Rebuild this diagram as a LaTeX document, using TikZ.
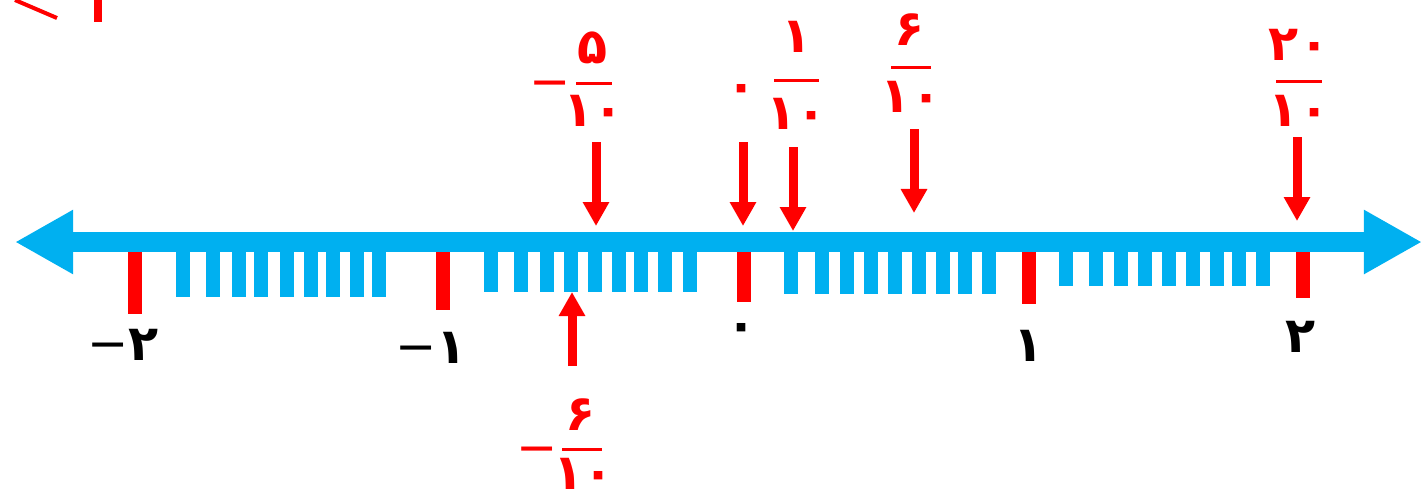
\documentclass[tikz,border=0pt]{standalone}
\usepackage{fontspec}
\newfontfamily\fafont{DejaVu Sans}
\usetikzlibrary{calc, arrows, arrows.meta}
\definecolor{lineblue}{RGB}{0,176,240}
\tikzstyle{numline}=[draw=lineblue, line width=0.2cm, {Triangle[width=0.6cm,length=0.58cm]}-{Triangle[width=0.6cm,length=0.58cm]}]
\tikzstyle{tenth}=[draw=lineblue, line width=0.14cm]
\tikzstyle{unittick}=[draw=red, line width=0.14cm]
\tikzstyle{num}=[font=\fafont\bfseries\fontsize{14}{16}\selectfont, inner sep=0pt]
\tikzstyle{frac}=[num, text=red]
\tikzstyle{bar}=[draw=red, line width=0.03cm]
\tikzstyle{pointer}=[draw=red, line width=0.09cm, -{Triangle[width=0.25cm,length=0.24cm]}]

\begin{document}
\begin{tikzpicture}[x=0.01cm, y=-0.01cm]
      \useasboundingbox (0,0) rectangle (1428,499);

      % cut-off heading
      \draw[red, line width=0.04cm] (15,0) -- (57,18);
      \draw[red, line width=0.08cm] (98,0) -- (98,22);

      % number line
      \coordinate (west) at (15,242);
      \coordinate (east) at (1422,242);
      \draw[numline] (west) -- (east);

      \foreach \x in {183,213,239,261,287,311,333,357,379} \draw[tenth] (\x,252) -- (\x,297);
      \foreach \x in {491,521,547,571,595,619,641,665,690} \draw[tenth] (\x,252) -- (\x,292);
      \foreach \x in {791,822,847,871,895,919,943,965,989} \draw[tenth] (\x,252) -- (\x,294);
      \foreach \x in {1066,1096,1121,1145,1169,1193,1217,1239,1263} \draw[tenth] (\x,252) -- (\x,286);

      \draw[unittick] (135,252) -- (135,314);
      \draw[unittick] (443,252) -- (443,310);
      \draw[unittick] (744,252) -- (744,302);
      \draw[unittick] (1029,252) -- (1029,304);
      \draw[unittick] (1303,252) -- (1303,298);

      \node[num] (lm2) at (123,345) {{\mdseries −}۲};
      \node[num] (lm1) at (431,348) {{\mdseries −}۱};
      \node[num] (l0) at (742,332) {۰};
      \node[num] (l1) at (1029,346) {۱};
      \node[num] (l2) at (1300,337) {۲};

      % -5/10
      \node[frac] (n5) at (593,48) {۵};
      \node[frac] (d5) at (594,111) {۱۰};
      \node[frac, font=\fafont\fontsize{14}{16}\selectfont, anchor=base] (m5) at (550,98) {−};
      \coordinate (b5l) at (576,83);
      \coordinate (b5r) at (612,83);
      \draw[bar] (b5l) -- (b5r);
      \coordinate (s5) at (596,142);
      \coordinate (e5) at (596,226);
      \draw[pointer] (s5) -- (e5);

      % 0
      \node[frac] (z0) at (742,93) {۰};
      \coordinate (s0) at (743,142);
      \coordinate (e0) at (743,226);
      \draw[pointer] (s0) -- (e0);

      % 1/10
      \node[frac] (n1) at (797,37) {۱};
      \node[frac] (d1) at (797,114) {۱۰};
      \coordinate (b1l) at (774,80);
      \coordinate (b1r) at (819,80);
      \draw[bar] (b1l) -- (b1r);
      \coordinate (s1) at (793,147);
      \coordinate (e1) at (793,231);
      \draw[pointer] (s1) -- (e1);

      % 6/10
      \node[frac] (n6) at (910,30) {۶};
      \node[frac] (d6) at (911,97) {۱۰};
      \coordinate (b6l) at (891,67);
      \coordinate (b6r) at (931,67);
      \draw[bar] (b6l) -- (b6r);
      \coordinate (s6) at (914,129);
      \coordinate (e6) at (914,213);
      \draw[pointer] (s6) -- (e6);

      % 20/10
      \node[frac] (n20) at (1299,45) {۲۰};
      \node[frac] (d20) at (1299,111) {۱۰};
      \coordinate (b20l) at (1276,81);
      \coordinate (b20r) at (1322,81);
      \draw[bar] (b20l) -- (b20r);
      \coordinate (s20) at (1297,137);
      \coordinate (e20) at (1297,221);
      \draw[pointer] (s20) -- (e20);

      % -6/10
      \node[frac] (nm6) at (581,415) {۶};
      \node[frac] (dm6) at (584,474) {۱۰};
      \node[frac, font=\fafont\fontsize{14}{16}\selectfont, anchor=base] (mm6) at (537,464) {−};
      \coordinate (bm6l) at (562,449);
      \coordinate (bm6r) at (602,449);
      \draw[bar] (bm6l) -- (bm6r);
      \coordinate (sm6) at (572,366);
      \coordinate (em6) at (572,292);
      \draw[pointer] (sm6) -- (em6);
\end{tikzpicture}
\end{document}
